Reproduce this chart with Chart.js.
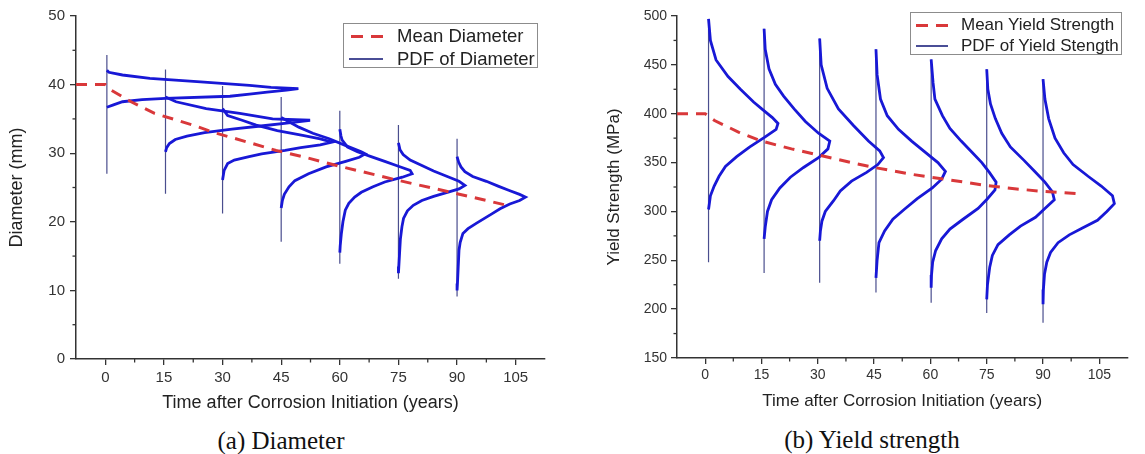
<!DOCTYPE html>
<html>
<head>
<meta charset="utf-8">
<script src="https://cdn.jsdelivr.net/npm/chart.js@4.4.0/dist/chart.umd.min.js"></script>
<style>
  body { margin: 0; background: #fff; width: 1145px; height: 454px; position: relative; overflow: hidden;
         font-family: "Liberation Sans", Arial, sans-serif; }
  canvas { position: absolute; top: 0; }
  #chartA { left: 0; }
  #chartB { left: 595px; }
  .legend { position: absolute; box-sizing: border-box; border: 1px solid #8c8c8c; background: #fff; color: #222; }
  .legend .txt { position: absolute; white-space: nowrap; line-height: 20px; }
  .legend .dash { position: absolute; height: 3px; background: #d9383a; }
  .legend .solid { position: absolute; height: 1.5px; background: #4a4e96; }
  .caption { position: absolute; width: 300px; text-align: center; line-height: 30px;
             font-family: "Liberation Serif", "Times New Roman", serif; font-size: 25px; color: #111; }
</style>
</head>
<body>
<canvas id="chartA" width="580" height="420"></canvas>
<canvas id="chartB" width="550" height="420"></canvas>

<div class="legend" style="left:343px; top:23px; width:195px; height:45px; font-size:18.5px;">
  <div class="dash" style="left:7px; top:11px; width:12px;"></div>
  <div class="dash" style="left:27px; top:11px; width:12px;"></div>
  <div class="txt" style="left:53px; top:2px;">Mean Diameter</div>
  <div class="solid" style="left:5px; top:34px; width:34px;"></div>
  <div class="txt" style="left:53px; top:25px;">PDF of Diameter</div>
</div>
<div class="legend" style="left:910px; top:12px; width:212px; height:43px; font-size:17px;">
  <div class="dash" style="left:5px; top:11px; width:12px;"></div>
  <div class="dash" style="left:25px; top:11px; width:12px;"></div>
  <div class="txt" style="left:50px; top:2px;">Mean Yield Strength</div>
  <div class="solid" style="left:5px; top:32px; width:32px;"></div>
  <div class="txt" style="left:50px; top:23px;">PDF of Yield Stength</div>
</div>

<div class="caption" style="left:131px; top:426px;">(a) Diameter</div>
<div class="caption" style="left:722px; top:425px;">(b) Yield strength</div>

<script>
// shared x axis (years)
const timeTicks = [0, 15, 30, 45, 60, 75, 90, 105];
const timeMinor = [7.5, 22.5, 37.5, 52.5, 67.5, 82.5, 97.5];

// (a) Diameter
const meanDiaT = [-7.5, 0, 1.5, 6.6, 12.6, 22.4, 27.9, 37.7, 43.7, 50.5, 59.9, 74.5, 90, 102];
const meanDiaY = [40, 40, 39.2, 37.5, 35.8, 34.1, 33.0, 31.4, 30.4, 29.5, 28.1, 26.1, 24.1, 22.5];
const diaBase = [0.4, 15.4, 30, 45, 60, 75, 90];
const diaTop = [44.3, 42.2, 39.8, 38.2, 36.2, 34.1, 32.1];
const diaBottom = [27.0, 24.1, 21.2, 17.1, 13.9, 11.7, 9.1];
const diaPdfY = [
  [42.1, 41.8, 41.4, 40.9, 40.4, 39.9, 39.6, 39.4, 39.2, 38.9, 38.6, 38.3, 38.0, 37.8, 37.5, 37.0, 36.7],
  [38.2, 37.5, 36.5, 35.8, 35.0, 34.8, 34.4, 34.0, 33.5, 33.0, 32.5, 32.0, 31.4, 30.8, 30.2],
  [36.5, 35.5, 34.8, 34.1, 33.3, 32.6, 32.1, 31.6, 31.2, 30.8, 30.4, 29.9, 29.5, 29.0, 28.5, 27.5, 26.1],
  [35.2, 34.8, 33.8, 32.9, 32.1, 31.0, 30.2, 29.9, 29.4, 28.8, 28.0, 27.0, 26.0, 25.1, 24.0, 23.1, 22.0],
  [33.5, 32.5, 31.9, 30.9, 30.2, 29.5, 28.8, 28.1, 27.5, 27.0, 26.5, 25.8, 25.1, 24.3, 23.6, 22.7, 21.7, 20.0, 18.3, 16.5, 15.5],
  [31.5, 30.5, 29.8, 29.0, 28.2, 27.4, 26.6, 25.9, 25.3, 24.8, 24.3, 23.7, 23.1, 22.4, 21.6, 20.5, 19.3, 17.5, 15.5, 13.5, 12.5],
  [29.5, 28.7, 28.0, 27.3, 26.6, 25.9, 25.2, 24.6, 24.0, 23.6, 23.1, 22.6, 21.9, 21.2, 20.5, 19.8, 19.0, 18.3, 17.0, 15.9, 13.5, 11.0, 10.0]
];
const diaPdfW = [
  [0, 0.5, 4, 11, 24, 36.5, 42, 49, 46, 41, 36.5, 31.5, 15, 9, 4, 1.5, 0],
  [0, 2.7, 10.4, 19, 27.4, 37, 31, 25, 17, 10, 5.5, 2.5, 1, 0.3, 0],
  [0, 1.3, 5, 8.6, 14, 20.5, 25, 28, 25, 20, 16, 10, 6.8, 3, 1.3, 0.4, 0],
  [0, 1.3, 4.5, 8.1, 12.3, 17, 20.5, 21.5, 20, 16.5, 11.5, 7, 3.5, 2, 0.8, 0.3, 0],
  [0, 0.3, 0.6, 2, 4.5, 8, 11.5, 15, 18, 18.5, 16, 11.5, 8.5, 5.5, 3.8, 2.3, 1.4, 0.8, 0.4, 0.1, 0],
  [0, 0.4, 1.2, 3, 6, 9, 12.5, 15.5, 17, 15.5, 12.5, 9, 6, 3.8, 2.3, 1.3, 0.9, 0.5, 0.3, 0.1, 0],
  [0, 0.4, 1, 2, 4, 7.5, 10.5, 13.2, 16, 17.5, 16, 13.5, 11, 9, 7, 5, 2.8, 1.5, 0.8, 0.5, 0.3, 0.1, 0]
];

// (b) Yield strength
const meanYsT = [-7.5, 0, 2.5, 9, 15, 23, 30, 40, 45, 55, 60, 69, 75, 83, 90, 100];
const meanYsY = [400, 400, 393, 381, 372, 364, 358, 349, 345, 338, 335, 330, 326.5, 323, 320.5, 318];
const ysBase = [0.9, 15.7, 30.5, 45.5, 60.2, 75, 90];
const ysTop = [497, 487, 477, 466, 455.5, 445.5, 435.5];
const ysBottom = [248, 237, 227, 217, 206.5, 196, 186];
const ysPdfY = [
  [497, 475, 455, 438, 425, 412, 404, 396, 390, 384, 376, 366, 356, 346, 336, 326, 316, 302],
  [487, 466, 446, 430, 418, 405, 392, 380, 372, 364, 355, 345, 335, 324, 312, 300, 284, 272],
  [477, 450, 426, 405, 388, 372, 362, 355, 348, 340, 331, 321, 311, 300, 290, 280, 270],
  [466, 440, 415, 398, 384, 372, 361, 350, 341, 333, 324, 313, 302, 292, 280, 268, 250, 232],
  [455.5, 432, 415, 398, 385, 372, 360, 350, 340, 330, 322, 313, 303, 292, 282, 272, 260, 248, 235, 222],
  [445.5, 425, 410, 395, 380, 366, 352, 340, 330, 320, 312, 303, 294, 285, 276, 266, 255, 243, 225, 210],
  [435.5, 415, 395, 375, 360, 348, 336, 326, 316, 308, 300, 291, 283, 276, 268, 258, 248, 236, 220, 205]
];
const ysPdfW = [
  [0, 0.5, 2, 5.2, 8.5, 12, 14.5, 17, 18.5, 18, 15, 11, 7.5, 4.5, 2.8, 1.5, 0.5, 0],
  [0, 0.3, 1.3, 3, 5.2, 8, 11, 14.5, 17.5, 17, 14.5, 10.5, 7, 4.2, 2, 0.9, 0.3, 0],
  [0, 0.4, 2, 5, 9, 13, 16, 17, 15.5, 12.5, 8.5, 5.5, 3.7, 1.5, 0.6, 0.2, 0],
  [0, 0.3, 1.2, 3, 6, 9.5, 13, 16.5, 18.5, 17.5, 15, 11, 7.5, 4.5, 2.3, 0.8, 0.3, 0],
  [0, 0.5, 1, 3, 5, 8, 11, 13.5, 15.5, 17.3, 17, 15, 12.5, 8.5, 5, 2.8, 1.2, 0.4, 0.1, 0],
  [0, 0.3, 1, 2.3, 4, 6.3, 10, 13, 15.5, 17.5, 18, 15.5, 13, 9, 6, 3, 1.5, 0.8, 0.2, 0],
  [0, 0.5, 1.5, 3.2, 5.5, 8, 12, 15.5, 18.5, 19, 17, 14.5, 10.5, 7, 4, 2, 1, 0.4, 0.1, 0]
];

Chart.defaults.font.family = '"Liberation Sans", Arial, sans-serif';
Chart.defaults.color = '#333';
Chart.defaults.animation = false;

const RED = '#d9383a';
const BLUE = '#1818d6';
const NAVY = '#4a4e8e';
const AXIS = '#333';

// small tick marks between the labelled ones
const minorTicks = {
  id: 'minorTicks',
  afterDraw(chart, args, opts) {
    const { ctx, scales: { x, y } } = chart;
    ctx.save();
    ctx.strokeStyle = AXIS;
    ctx.lineWidth = 1.3;
    opts.x.forEach(v => {
      const p = x.getPixelForValue(v);
      ctx.beginPath(); ctx.moveTo(p, x.top); ctx.lineTo(p, x.top + 3.5); ctx.stroke();
    });
    opts.y.forEach(v => {
      const p = y.getPixelForValue(v);
      ctx.beginPath(); ctx.moveTo(y.right, p); ctx.lineTo(y.right - 3.5, p); ctx.stroke();
    });
    ctx.restore();
  }
};

function buildDatasets(meanT, meanY, base, top, bottom, pdfY, pdfW) {
  const sets = [{
    data: meanT.map((t, i) => ({ x: t, y: meanY[i] })),
    borderColor: RED, borderWidth: 3, borderDash: [11, 8]
  }];
  base.forEach((b, k) => {
    sets.push({
      data: pdfY[k].map((y, i) => ({ x: b + pdfW[k][i], y })),
      borderColor: BLUE, borderWidth: 2.8
    });
  });
  base.forEach((b, k) => {
    sets.push({
      data: [{ x: b, y: top[k] }, { x: b, y: bottom[k] }],
      borderColor: NAVY, borderWidth: 1.2
    });
  });
  sets.forEach(s => { s.showLine = true; s.pointRadius = 0; s.fill = false; s.tension = 0; });
  return sets;
}

function makeChart(id, c) {
  return new Chart(document.getElementById(id), {
    type: 'scatter',
    data: { datasets: buildDatasets(c.meanT, c.meanY, c.base, c.top, c.bottom, c.pdfY, c.pdfW) },
    plugins: [minorTicks],
    options: {
      responsive: false,
      events: [],
      layout: { padding: { left: 0, top: c.padTop, right: c.padRight, bottom: 0 } },
      plugins: {
        legend: { display: false },
        tooltip: { enabled: false },
        minorTicks: { x: timeMinor, y: c.yMinor }
      },
      scales: {
        x: {
          type: 'linear', min: -7.5, max: 112.5,
          afterBuildTicks: s => { s.ticks = timeTicks.map(v => ({ value: v })); },
          afterFit: s => { s.height = c.xHeight; },
          grid: { drawOnChartArea: false, drawTicks: true, tickLength: 6, color: AXIS, lineWidth: 1.3 },
          border: { color: AXIS, width: 1.5 },
          ticks: { font: { size: c.tickSize }, padding: c.xTickPad, maxRotation: 0, color: '#333' },
          title: { display: true, text: 'Time after Corrosion Initiation (years)',
                   font: { size: c.titleSize }, color: '#222', padding: { top: 0, bottom: c.xTitlePad } }
        },
        y: {
          type: 'linear', min: c.yMin, max: c.yMax,
          ticks: { stepSize: c.yStep, font: { size: c.tickSize }, padding: c.yTickPad, color: '#333' },
          afterFit: s => { s.width = c.yWidth; },
          grid: { drawOnChartArea: false, drawTicks: true, tickLength: 6, color: AXIS, lineWidth: 1.3 },
          border: { color: AXIS, width: 1.5 },
          title: { display: true, text: c.yTitle,
                   font: { size: c.titleSize }, color: '#222', padding: { top: c.yTitlePad, bottom: 0 } }
        }
      }
    }
  });
}

makeChart('chartA', {
  meanT: meanDiaT, meanY: meanDiaY, base: diaBase, top: diaTop, bottom: diaBottom,
  pdfY: diaPdfY, pdfW: diaPdfW,
  yMin: 0, yMax: 50, yStep: 10, yMinor: [5, 15, 25, 35, 45],
  yTitle: 'Diameter (mm)',
  padTop: 16, padRight: 35, yWidth: 76, xHeight: 61,
  tickSize: 15, titleSize: 18, xTickPad: 4, yTickPad: 5, xTitlePad: 6, yTitlePad: 6
});

makeChart('chartB', {
  meanT: meanYsT, meanY: meanYsY, base: ysBase, top: ysTop, bottom: ysBottom,
  pdfY: ysPdfY, pdfW: ysPdfW,
  yMin: 150, yMax: 500, yStep: 50, yMinor: [175, 225, 275, 325, 375, 425, 475],
  yTitle: 'Yield Strength (MPa)',
  padTop: 16, padRight: 17.5, yWidth: 82, xHeight: 62,
  tickSize: 14, titleSize: 17, xTickPad: 3, yTickPad: 4, xTitlePad: 8, yTitlePad: 9
});
</script>
</body>
</html>
